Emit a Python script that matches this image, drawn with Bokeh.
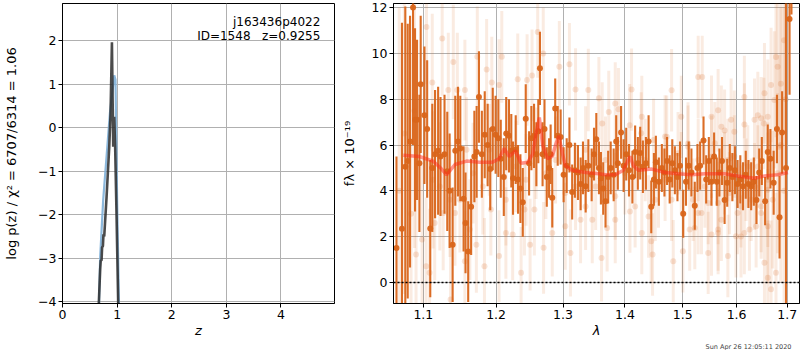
from bokeh.plotting import figure
from bokeh.layouts import row
from bokeh.models import Range1d, FixedTicker, PrintfTickFormatter, Label, Span, ColumnDataSource, Title
from bokeh.embed import file_html
from bokeh.resources import INLINE

FONT = "DejaVu Sans"

# ---------------- left panel: p(z) ----------------
z_dark = [0.655, 0.666, 0.690, 0.700, 0.715, 0.725, 0.740, 0.750, 0.764, 0.807, 0.856, 0.880, 0.905, 0.917, 0.929, 0.947, 0.965, 0.990, 1.020, 1.030]
logp_dark = [-4.5, -4.0, -3.25, -3.05, -3.05, -2.75, -2.72, -2.45, -2.5, -1.59, -0.44, 0.33, 1.96, 0.70, -0.44, 0.25, -0.50, -2.04, -4.04, -4.5]
z_blue = [0.66, 0.69, 0.745, 0.868, 0.948, 0.970, 1.000, 1.033, 1.040]
logp_blue = [-4.5, -2.96, -1.66, 0.33, 1.20, 1.10, -1.66, -4.0, -4.5]
pz_ticks_x = [0, 1, 2, 3, 4]
pz_ticks_y = [-4, -3, -2, -1, 0, 1, 2]
obj_name = "j163436p4022"
obj_info = "ID=1548\u00a0\u00a0 z=0.9255"

# ---------------- right panel: spectrum ----------------
lam_bin = [1.0652, 1.0722, 1.0765, 1.0796, 1.0826, 1.0865, 1.0891, 1.0917, 1.0948, 1.0965,
           1.1014, 1.1050, 1.1091, 1.1118, 1.1155, 1.1196, 1.1228, 1.1282, 1.1319, 1.1351,
           1.1392, 1.1428, 1.1465, 1.1497, 1.1542, 1.1569, 1.1606, 1.1647, 1.1692, 1.1724,
           1.1756, 1.1797, 1.1838, 1.1879, 1.1916, 1.1952, 1.1993, 1.2032, 1.2067, 1.2111,
           1.2146, 1.2186, 1.2220, 1.2245, 1.2285, 1.2319, 1.2354, 1.2389, 1.2433, 1.2483,
           1.2517, 1.2557, 1.2592, 1.2621, 1.2646, 1.2686, 1.2715, 1.2750, 1.2785, 1.2809,
           1.2834, 1.2879, 1.2918, 1.2963, 1.3009, 1.3057, 1.3100, 1.3143, 1.3186, 1.3234,
           1.3277, 1.3314, 1.3357, 1.3400, 1.3453, 1.3491, 1.3528, 1.3571, 1.3603, 1.3640,
           1.3678, 1.3721, 1.3763, 1.3812, 1.3854, 1.3881, 1.3935, 1.3977, 1.4021, 1.4067,
           1.4125, 1.4171, 1.4217, 1.4257, 1.4303, 1.4355, 1.4401, 1.4447, 1.4493, 1.4527,
           1.4579, 1.4631, 1.4677, 1.4723, 1.4769, 1.4815, 1.4861, 1.4907, 1.4953, 1.5010,
           1.5060, 1.5109, 1.5158, 1.5219, 1.5268, 1.5317, 1.5379, 1.5428, 1.5477, 1.5526,
           1.5575, 1.5625, 1.5674, 1.5723, 1.5772, 1.5821, 1.5870, 1.5919, 1.5969, 1.6018,
           1.6071, 1.6123, 1.6176, 1.6228, 1.6281, 1.6333, 1.6385, 1.6438, 1.6490, 1.6555,
           1.6607, 1.6660, 1.6725, 1.6791, 1.6843, 1.6895, 1.6974, 1.7046, 1.7085]
flux_bin = [1.5, 2.34, 5.05, 5.3, 6.15, 12.0, 7.1, 7.1, 5.2, 8.65,
            7.3, 6.7, 2.35, 5.0, 5.6, 5.75, 5.5, 5.6, 4.85, 4.0,
            1.65, 5.75, 6.15, 5.85, 3.65, 2.6, 1.35, 3.3, 5.5, 5.7,
            8.1, 5.6, 6.45, 6.0, 4.95, 6.7, 6.45, 6.3, 5.4, 4.6,
            6.5, 6.4, 5.75, 4.55, 5.8, 4.5, 4.1, 3.5, 7.15, 5.2,
            6.3, 6.4, 5.6, 6.6, 9.35, 5.6, 6.7, 4.6, 5.0, 5.6,
            3.7, 7.6, 6.4, 6.35, 4.7, 5.1, 6.0, 3.95, 4.9, 4.8,
            4.3, 5.0, 4.2, 5.1, 4.7, 5.6, 6.25, 5.0, 4.55, 4.1,
            3.55, 4.6, 5.0, 4.7, 6.15, 5.2, 6.55, 5.1, 5.6, 4.9,
            4.6, 5.7, 5.2, 5.65, 5.05, 5.2, 6.15, 3.3, 4.5, 5.25,
            4.4, 5.0, 4.8, 5.3, 4.5, 5.2, 4.9, 4.6, 5.1, 3.0,
            4.4, 5.1, 4.8, 3.35, 5.0, 5.1, 6.2, 4.5, 5.3, 4.4,
            5.5, 4.4, 4.8, 5.3, 3.6, 4.35, 5.0, 4.6, 4.9, 4.3,
            4.5, 4.2, 4.7, 4.3, 4.2, 4.4, 3.6, 4.8, 5.3, 3.55,
            5.7, 5.4, 4.35, 6.7, 2.85, 6.55, 5.0, 11.5, 13.0]
err_bin = [4.0, 9.0, 7.0, 6.0, 5.5, 6.0, 4.0, 3.5, 3.0, 3.0,
           3.0, 3.0, 3.0, 2.8, 2.8, 2.8, 2.6, 2.6, 2.6, 2.5,
           2.5, 2.4, 2.4, 2.3, 2.3, 2.2, 2.2, 2.1, 2.0, 2.0,
           2.0, 1.9, 1.9, 1.8, 1.8, 1.8, 1.7, 1.7, 1.7, 1.7,
           1.6, 1.6, 1.6, 1.6, 1.5, 1.5, 1.5, 1.5, 1.5, 1.4,
           1.4, 1.4, 1.4, 1.4, 1.6, 1.4, 1.3, 1.3, 1.3, 1.3,
           1.3, 1.3, 1.3, 1.2, 1.2, 1.2, 1.2, 1.2, 1.2, 1.2,
           1.15, 1.15, 1.15, 1.15, 1.15, 1.15, 1.15, 1.15, 1.15, 1.15,
           1.15, 1.15, 1.15, 1.15, 1.15, 1.15, 1.15, 1.15, 1.15, 1.15,
           1.15, 1.15, 1.15, 1.15, 1.15, 1.15, 1.15, 1.15, 1.15, 1.15,
           1.05, 1.05, 1.05, 1.05, 1.05, 1.05, 1.05, 1.05, 1.05, 1.05,
           1.05, 1.05, 1.05, 1.05, 1.05, 1.05, 1.05, 1.05, 1.05, 1.05,
           1.05, 1.05, 1.05, 1.05, 1.05, 1.05, 1.05, 1.05, 1.05, 1.05,
           1.05, 1.05, 1.05, 1.05, 1.05, 1.05, 1.05, 1.05, 1.05, 1.05,
           1.2, 1.3, 1.4, 1.5, 1.8, 1.8, 9.0, 3.3, 1.3]

lam_raw = [1.1041, 1.1251, 1.1401, 1.1118, 1.1333, 1.1456, 1.1560, 1.1733, 1.1865, 1.1938,
           1.2082, 1.2042, 1.2315, 1.2453, 1.2527, 1.2612, 1.2696, 1.2943, 1.3100, 1.3196,
           1.3399, 1.3570, 1.3731, 1.3891, 1.4079, 1.4274, 1.4487, 1.4688, 1.4918, 1.5281,
           1.5355, 1.5527, 1.5772, 1.5895, 1.6149, 1.6346, 1.6477, 1.6542, 1.6673, 1.6804,
           1.6739, 1.6608,
           1.0904, 1.0983, 1.1036, 1.1082, 1.1150, 1.1264, 1.1364, 1.1424, 1.1492, 1.1560,
           1.1629, 1.1720, 1.1834, 1.1925, 1.2042, 1.2141, 1.2240, 1.2364, 1.2414, 1.2498,
           1.2562, 1.2701, 1.2834, 1.3035, 1.3116, 1.3276, 1.3356, 1.3463, 1.3613, 1.3704,
           1.3838, 1.4084, 1.4285, 1.4446, 1.4470, 1.4832, 1.5004, 1.5127, 1.5219, 1.5342,
           1.5465, 1.5527, 1.5650, 1.5834, 1.5987, 1.6149, 1.6247, 1.6378, 1.6542, 1.6608,
           1.6673, 1.6771,
           1.1128, 1.1219, 1.1355, 1.1583, 1.1674, 1.1811, 1.1902, 1.2141, 1.2290, 1.2438,
           1.2587, 1.2736, 1.2884, 1.3035, 1.3196, 1.3356, 1.3517, 1.3678, 1.3838, 1.3998,
           1.4171, 1.4343, 1.4516, 1.4688, 1.4803, 1.4975, 1.5097, 1.5189, 1.5281, 1.5404,
           1.5588, 1.5650, 1.5772, 1.5864, 1.5956, 1.6084, 1.6182, 1.6280, 1.6411, 1.6477,
           1.6608,
           1.0687, 1.0752, 1.0839, 1.0883, 1.6869, 1.6935, 1.6967,
           1.4111, 1.6149, 1.6411, 1.6529, 1.5650, 1.5711, 1.5956, 1.4975, 1.4717, 1.5097,
           1.5527, 1.5834, 1.6215, 1.6346, 1.6608, 1.6477, 1.6018, 1.5711, 1.5465, 1.5281,
           1.5650, 1.6084, 1.6608, 1.6706, 1.6804, 1.6837, 1.6869, 1.6771, 1.6935, 1.4803,
           1.4285, 1.3838, 1.3624, 1.4573, 1.4401]
flux_raw = [11.15, 10.65, 9.63, 8.73, 8.4, 8.4, 8.4, 9.85, 9.3, 8.73,
            9.85, 8.62, 8.87, 8.84, 9.04, 10.94, 10.0, 9.42, 9.53, 8.43,
            8.4, 8.04, 7.44, 7.56, 6.86, 6.51, 6.22, 6.37, 5.64, 8.97,
            8.97, 7.24, 6.63, 7.1, 6.9, 7.1, 7.17, 8.26, 8.62, 9.42,
            7.97, 7.24,
            1.22, 1.87, 0.71, 0.42, 2.6, 3.03, -0.74, 3.03, 3.61, 0.93,
            2.31, 1.65, 0.71, 3.18, 1.15, 2.16, 2.09, 0.42, 3.18, 1.65,
            3.18, 1.51, 2.16, 2.45, 1.29, 2.74, 3.32, 2.74, 1.07, 2.38,
            2.74, 3.1, 2.16, 1.8, 1.22, 0.93, 1.36, 2.31, 2.38, 3.03,
            1.29, 2.09, 2.31, 1.15, 2.02, 2.16, 2.31, 2.45, 0.86, 0.2,
            -0.3, 0.42,
            4.48, 4.19, 3.61, 5.79, 4.77, 4.19, 5.79, 3.61, 5.06, 4.48,
            5.64, 4.77, 5.35, 3.9, 4.19, 5.79, 4.19, 5.35, 3.76, 4.77,
            3.32, 5.35, 3.61, 4.48, 3.61, 4.77, 5.93, 3.61, 5.35, 4.19,
            6.08, 3.47, 4.77, 3.9, 5.5, 3.32, 4.48, 3.61, 5.06, 3.03,
            4.05,
            4.0, 6.5, 3.0, 7.5, 6.0, 4.0, 8.0,
            8.42, 8.1, 7.3, 6.94, 7.52, 6.8, 6.58, 7.23, 6.36, 6.07,
            5.49, 5.35, 5.06, 4.19, 4.48, 3.32, 3.03, 2.74, 3.47, 3.03,
            2.16, 2.01, 2.45, 3.61, 4.77, 5.93, 8.68, 9.84, 10.57, 8.39,
            7.23, 7.81, 6.94, 4.19, 2.88]
err_raw = [2.5, 2.5, 2.5, 3.0, 2.5, 2.5, 2.2, 2.2, 2.2, 2.0,
           2.0, 2.0, 2.0, 2.0, 2.0, 2.0, 2.0, 2.0, 1.8, 1.8,
           1.8, 1.8, 1.8, 1.8, 1.8, 1.8, 1.8, 1.8, 1.8, 1.8,
           1.8, 1.8, 1.8, 1.8, 1.8, 1.8, 1.8, 2.2, 2.5, 3.0,
           3.0, 2.5,
           4.0, 3.5, 3.0, 2.8, 2.5, 2.5, 2.5, 2.3, 2.3, 2.2,
           2.2, 2.1, 2.1, 2.0, 2.0, 2.0, 2.0, 2.0, 2.0, 2.0,
           2.0, 2.0, 1.9, 1.9, 1.9, 1.9, 1.9, 1.9, 1.9, 1.9,
           1.9, 1.8, 1.8, 1.8, 1.8, 1.8, 1.8, 1.8, 1.8, 1.8,
           1.8, 1.8, 1.8, 1.8, 1.8, 1.8, 1.8, 1.8, 2.2, 2.5,
           3.0, 3.5,
           3.0, 2.8, 2.5, 2.3, 2.2, 2.1, 2.0, 2.0, 2.0, 2.0,
           2.0, 2.0, 1.9, 1.9, 1.9, 1.9, 1.9, 1.9, 1.9, 1.8,
           1.8, 1.8, 1.8, 1.8, 1.8, 1.8, 1.8, 1.8, 1.8, 1.8,
           1.8, 1.8, 1.8, 1.8, 1.8, 1.8, 1.8, 1.8, 1.8, 2.0,
           2.5,
           8.0, 7.0, 7.0, 6.0, 6.0, 8.0, 6.0,
           1.8, 1.8, 1.9, 2.0, 1.8, 1.8, 1.8, 1.8, 1.8, 1.8,
           1.8, 1.8, 1.8, 1.9, 2.5, 2.0, 1.8, 1.8, 1.8, 1.8,
           1.8, 1.8, 2.5, 3.0, 3.5, 4.0, 4.0, 3.5, 4.0, 1.8,
           1.8, 1.8, 1.8, 1.8, 1.8]

lam_model = [1.0739, 1.0948, 1.1128, 1.1228, 1.1310, 1.1424, 1.1583, 1.1765, 1.1948, 1.2041,
             1.2116, 1.2190, 1.2280, 1.2364, 1.2463, 1.2537, 1.2587, 1.2637, 1.2686, 1.2761,
             1.2834, 1.2884, 1.2934, 1.2993, 1.3036, 1.3143, 1.3357, 1.3571, 1.3678, 1.3838,
             1.3972, 1.4027, 1.4084, 1.4142, 1.4228, 1.4458, 1.4688, 1.4918, 1.5158, 1.5404,
             1.5772, 1.6018, 1.6346, 1.6542, 1.6804, 1.7013]
flux_model = [5.55, 5.5, 5.3, 5.0, 4.7, 5.15, 5.3, 5.25, 5.25, 5.4,
              5.85, 5.5, 5.75, 5.2, 5.25, 5.6, 6.5, 7.2, 6.0, 5.4,
              5.5, 6.0, 6.4, 5.6, 5.1, 4.9, 4.8, 4.75, 4.7, 4.7,
              4.9, 5.2, 5.5, 5.1, 4.9, 4.95, 4.8, 4.75, 4.7, 4.75,
              4.75, 4.65, 4.55, 4.65, 4.7, 4.8]
spec_ticks_x = [1.1, 1.2, 1.3, 1.4, 1.5, 1.6, 1.7]
spec_ticks_y = [0, 2, 4, 6, 8, 10, 12]
timestamp = "Sun Apr 26 12:05:11 2020"

ORANGE = "#d9651a"
GRID = "#b0b0b0"


def style(p):
    p.outline_line_color = "black"
    p.outline_line_width = 1
    p.outline_line_alpha = 1
    p.background_fill_color = "white"
    p.border_fill_color = "white"
    for ax in (p.xaxis, p.yaxis):
        ax.major_tick_out = 4
        ax.major_tick_in = 0
        ax.minor_tick_line_color = None
        ax.axis_line_color = "black"
        ax.major_tick_line_color = "black"
        ax.major_label_text_font = FONT
        ax.major_label_text_font_size = "12.5px"
        ax.major_label_text_color = "black"
        ax.axis_label_text_font = FONT
        ax.axis_label_text_font_size = "13px"
        ax.axis_label_text_color = "black"
        ax.major_label_standoff = 2
    p.xaxis.axis_label_standoff = 1
    p.grid.grid_line_color = GRID
    p.grid.grid_line_width = 1


# ---- left figure ----
p1 = figure(width=338, height=350, output_backend="svg", toolbar_location=None,
            x_range=Range1d(0, 4.98), y_range=Range1d(-4.04, 2.85),
            min_border_left=62, min_border_right=4, min_border_top=3, min_border_bottom=46)
style(p1)
p1.xaxis.ticker = FixedTicker(ticks=pz_ticks_x)
p1.yaxis.ticker = FixedTicker(ticks=pz_ticks_y)
p1.yaxis.major_label_overrides = {t: ("\u2212" + str(abs(t)) if t < 0 else str(t)) for t in pz_ticks_y}
p1.xaxis.axis_label = "z"
p1.xaxis.axis_label_text_font_style = "italic"
p1.yaxis.axis_label = "log p(z) / \u03c7\u00b2 = 6707/6314 = 1.06"
p1.yaxis.axis_label_text_font_style = "normal"
p1.yaxis.axis_label_standoff = 16
p1.line(z_blue, logp_blue, line_color="#7fb0d8", line_width=2.2, line_alpha=0.9)
p1.line(z_dark, logp_dark, line_color="#2b2b2b", line_width=2.6, line_alpha=0.85)
p1.add_layout(Label(x=4.72, y=2.43, text=obj_name, text_align="right", text_baseline="middle",
                    text_font=FONT, text_font_size="12px", text_color="black"))
p1.add_layout(Label(x=4.72, y=2.11, text=obj_info, text_align="right", text_baseline="middle",
                    text_font=FONT, text_font_size="12px", text_color="black"))

# ---- right figure ----
p2 = figure(width=462, height=350, output_backend="svg", toolbar_location=None,
            x_axis_type="log", x_range=Range1d(1.0614, 1.725), y_range=Range1d(-0.92, 12.18),
            min_border_left=53, min_border_right=1, min_border_top=3, min_border_bottom=8)
style(p2)
p2.xaxis.ticker = FixedTicker(ticks=spec_ticks_x)
p2.xaxis.formatter = PrintfTickFormatter(format="%.1f")
p2.yaxis.ticker = FixedTicker(ticks=spec_ticks_y)
p2.xaxis.axis_label = "\u03bb"
p2.xaxis.axis_label_text_font_style = "italic"
p2.yaxis.axis_label = "f\u03bb \u00d7 10\u207b\u00b9\u2079"
p2.yaxis.axis_label_text_font_style = "normal"
p2.yaxis.axis_label_standoff = 12

raw = ColumnDataSource(dict(x=lam_raw, y=flux_raw,
                            lo=[f - e for f, e in zip(flux_raw, err_raw)],
                            hi=[f + e for f, e in zip(flux_raw, err_raw)]))
p2.segment(x0="x", y0="lo", x1="x", y1="hi", source=raw, line_color=ORANGE, line_width=3, line_alpha=0.13)
p2.scatter(x="x", y="y", source=raw, size=6, fill_color=ORANGE, line_color=None, fill_alpha=0.18)

binned = ColumnDataSource(dict(x=lam_bin, y=flux_bin,
                               lo=[f - e for f, e in zip(flux_bin, err_bin)],
                               hi=[f + e for f, e in zip(flux_bin, err_bin)]))
p2.segment(x0="x", y0="lo", x1="x", y1="hi", source=binned, line_color=ORANGE, line_width=2.1, line_alpha=0.95)
p2.scatter(x="x", y="y", source=binned, size=6, fill_color=ORANGE, line_color=None, fill_alpha=0.95)

p2.add_layout(Span(location=0, dimension="width", line_color="black", line_dash="2 2", line_width=1.5))
p2.line(lam_model, flux_model, line_color="#ff2a1a", line_width=3.5, line_alpha=0.5)

p2.add_layout(Title(text=timestamp, align="right", text_font=FONT, text_font_size="6.5px",
                    text_font_style="normal", standoff=0, offset=8), "below")

layout = row(p1, p2)
open("out.html", "w").write(file_html(layout, INLINE))
